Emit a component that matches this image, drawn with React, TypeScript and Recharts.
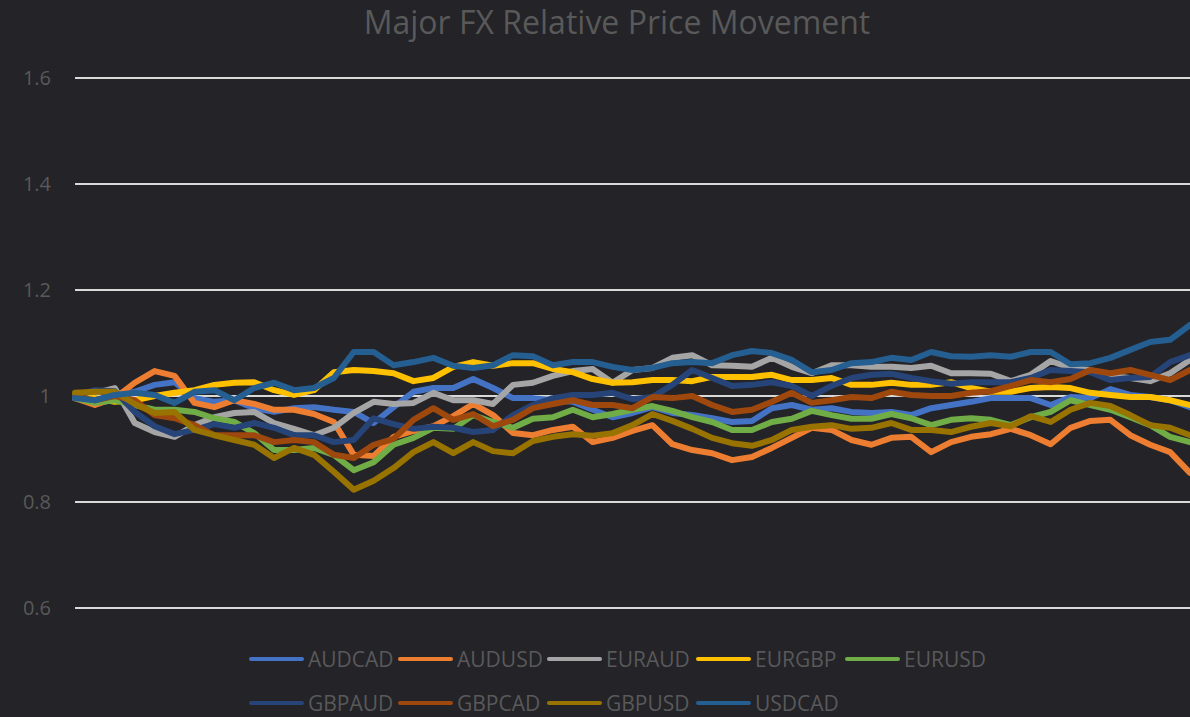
import React from 'react';
import { LineChart, Line, XAxis, YAxis, CartesianGrid } from 'recharts';

// trading days (no labels on the axis)
const days = Array.from({ length: 57 }, (_, i) => i + 1);

const yTicks = [0.6, 0.8, 1, 1.2, 1.4, 1.6];

const audcad = [
  0.996, 0.992, 1.0, 1.008, 1.021, 1.026, 0.996, 0.989, 0.992, 0.977,
  0.97, 0.977, 0.979, 0.974, 0.97, 0.949, 0.979, 1.008, 1.015, 1.015,
  1.032, 1.015, 0.996, 0.996, 0.992, 0.989, 0.974, 0.96, 0.968, 0.979,
  0.968, 0.964, 0.958, 0.951, 0.953, 0.977, 0.983, 0.974, 0.977, 0.97,
  0.968, 0.97, 0.964, 0.977, 0.983, 0.989, 0.996, 0.996, 0.996, 0.983,
  0.998, 0.996, 1.013, 1.002, 0.998, 0.992, 0.979,
];
const audusd = [
  0.996, 0.983, 0.996, 1.025, 1.047, 1.038, 0.987, 0.979, 0.992, 0.985,
  0.974, 0.974, 0.966, 0.951, 0.889, 0.887, 0.923, 0.934, 0.943, 0.962,
  0.985, 0.964, 0.93, 0.926, 0.936, 0.942, 0.913, 0.921, 0.934, 0.945,
  0.909, 0.898, 0.892, 0.879, 0.885, 0.902, 0.921, 0.94, 0.936, 0.917,
  0.908, 0.921, 0.923, 0.894, 0.913, 0.923, 0.928, 0.938, 0.926, 0.909,
  0.94, 0.953, 0.955, 0.926, 0.908, 0.894, 0.855,
];
const euraud = [
  0.996, 1.006, 1.015, 0.949, 0.932, 0.923, 0.945, 0.96, 0.968, 0.97,
  0.949, 0.938, 0.926, 0.94, 0.968, 0.989, 0.985, 0.987, 1.006, 0.992,
  0.992, 0.985, 1.021, 1.025, 1.038, 1.047, 1.051, 1.025, 1.049, 1.053,
  1.072, 1.077, 1.058, 1.057, 1.055, 1.072, 1.055, 1.043, 1.058, 1.058,
  1.055, 1.055, 1.053, 1.057, 1.043, 1.043, 1.042, 1.028, 1.04, 1.066,
  1.053, 1.049, 1.038, 1.034, 1.028, 1.043, 1.068,
];
const eurgbp = [
  1.0, 0.996, 0.989, 0.992, 1.0, 1.006, 1.011, 1.021, 1.025, 1.026,
  1.011, 1.002, 1.011, 1.045, 1.049, 1.047, 1.043, 1.028, 1.034, 1.055,
  1.064, 1.057, 1.062, 1.062, 1.051, 1.045, 1.032, 1.025, 1.026, 1.03,
  1.03, 1.028, 1.036, 1.036, 1.036, 1.04, 1.03, 1.03, 1.034, 1.021,
  1.021, 1.025, 1.021, 1.021, 1.026, 1.015, 1.008, 1.008, 1.015, 1.017,
  1.015, 1.006, 1.002, 0.998, 0.998, 0.992, 0.983,
];
const eurusd = [
  0.996, 0.987, 0.992, 0.983, 0.974, 0.974, 0.97, 0.958, 0.951, 0.93,
  0.898, 0.898, 0.902, 0.889, 0.86, 0.875, 0.908, 0.921, 0.94, 0.938,
  0.964, 0.951, 0.94, 0.957, 0.96, 0.974, 0.96, 0.966, 0.974, 0.981,
  0.972, 0.96, 0.951, 0.936, 0.936, 0.951, 0.957, 0.972, 0.964, 0.957,
  0.957, 0.966, 0.958, 0.945, 0.955, 0.958, 0.955, 0.945, 0.96, 0.97,
  0.992, 0.983, 0.974, 0.96, 0.945, 0.923, 0.913,
];
const gbpaud = [
  1.0, 1.011, 1.009, 0.97, 0.943, 0.928, 0.936, 0.947, 0.94, 0.949,
  0.94, 0.926, 0.926, 0.913, 0.917, 0.958, 0.947, 0.938, 0.942, 0.94,
  0.932, 0.936, 0.964, 0.983, 0.996, 1.002, 1.002, 1.006, 0.994, 0.998,
  1.021, 1.049, 1.034, 1.019, 1.021, 1.026, 1.019, 1.0, 1.019, 1.034,
  1.04, 1.042, 1.034, 1.028, 1.023, 1.026, 1.026, 1.026, 1.034, 1.049,
  1.047, 1.045, 1.03, 1.034, 1.036, 1.064, 1.077,
];
const gbpcad = [
  0.998, 0.992, 1.0, 0.992, 0.964, 0.958, 0.945, 0.926, 0.926, 0.926,
  0.913, 0.917, 0.913, 0.889, 0.883, 0.908, 0.919, 0.955, 0.977, 0.955,
  0.966, 0.943, 0.955, 0.977, 0.985, 0.992, 0.983, 0.983, 0.977, 0.998,
  0.996, 1.0, 0.983, 0.97, 0.974, 0.989, 1.006, 0.987, 0.992, 0.998,
  0.996, 1.008, 1.002, 1.0, 1.0, 1.006, 1.009, 1.019, 1.03, 1.026,
  1.032, 1.049, 1.043, 1.049, 1.04, 1.03, 1.049,
];
const gbpusd = [
  1.006, 1.008, 1.008, 0.985, 0.968, 0.97, 0.936, 0.926, 0.917, 0.908,
  0.883, 0.902, 0.889, 0.857, 0.823, 0.84, 0.864, 0.894, 0.913, 0.892,
  0.913, 0.896, 0.892, 0.915, 0.923, 0.928, 0.925, 0.93, 0.945, 0.966,
  0.953, 0.938, 0.921, 0.911, 0.906, 0.917, 0.936, 0.942, 0.945, 0.938,
  0.94, 0.949, 0.936, 0.936, 0.932, 0.942, 0.949, 0.943, 0.962, 0.951,
  0.974, 0.987, 0.981, 0.964, 0.945, 0.94, 0.926,
];
const usdcad = [
  0.996, 0.992, 1.002, 1.006, 1.002, 0.987, 1.008, 1.011, 0.992, 1.015,
  1.025, 1.011, 1.015, 1.034, 1.083, 1.083, 1.058, 1.064, 1.072, 1.057,
  1.053, 1.058, 1.077, 1.075, 1.058, 1.064, 1.064, 1.055, 1.049, 1.053,
  1.062, 1.064, 1.062, 1.077, 1.085, 1.081, 1.068, 1.045, 1.049, 1.062,
  1.064, 1.072, 1.068, 1.083, 1.075, 1.074, 1.077, 1.074, 1.083, 1.083,
  1.06, 1.062, 1.072, 1.087, 1.102, 1.106, 1.134,
];

const series = [
  { name: 'AUDCAD', values: audcad, color: '#4472C4' },
  { name: 'AUDUSD', values: audusd, color: '#ED7D31' },
  { name: 'EURAUD', values: euraud, color: '#A5A5A5' },
  { name: 'EURGBP', values: eurgbp, color: '#FFC000' },
  { name: 'EURUSD', values: eurusd, color: '#70AD47' },
  { name: 'GBPAUD', values: gbpaud, color: '#264478' },
  { name: 'GBPCAD', values: gbpcad, color: '#9E480E' },
  { name: 'GBPUSD', values: gbpusd, color: '#997300' },
  { name: 'USDCAD', values: usdcad, color: '#255E91' },
];

const data = days.map((day, i) => {
  const row: Record<string, number> = { day };
  series.forEach((s) => {
    row[s.name] = s.values[i];
  });
  return row;
});

const textColor = '#595959';
const font = '"Open Sans", sans-serif';

const LegendRow = ({ items, top }: { items: typeof series; top: number }) => (
  <div style={{ position: 'absolute', left: 249, top, display: 'flex' }}>
    {items.map((s) => (
      <div key={s.name} style={{ width: 149, display: 'flex', alignItems: 'center' }}>
        <div style={{ width: 55, height: 4, borderRadius: 2, background: s.color, marginRight: 4 }} />
        <span style={{ color: textColor, fontSize: 21, fontFamily: font, lineHeight: '26px' }}>{s.name}</span>
      </div>
    ))}
  </div>
);

export default function App() {
  return (
    <div
      style={{
        position: 'absolute',
        left: 0,
        top: 0,
        width: 1190,
        height: 717,
        background: '#232328',
        overflow: 'hidden',
      }}
    >
      <div
        style={{
          position: 'absolute',
          left: 0,
          top: 0,
          width: 1234,
          textAlign: 'center',
          color: textColor,
          fontFamily: font,
          fontSize: 32,
        }}
      >
        Major FX Relative Price Movement
      </div>
      <LineChart width={1190} height={717} data={data} margin={{ top: 78, right: 0, bottom: 109, left: 0 }}>
        <CartesianGrid vertical={false} stroke="#d9d9d9" strokeWidth={2} />
        <XAxis dataKey="day" hide />
        <YAxis
          width={75}
          domain={[0.6, 1.6]}
          ticks={yTicks}
          tickLine={false}
          axisLine={false}
          tickSize={0}
          tickMargin={24}
          tick={{ fill: textColor, fontSize: 20, fontFamily: font }}
        />
        {series.map((s) => (
          <Line
            key={s.name}
            type="linear"
            dataKey={s.name}
            stroke={s.color}
            strokeWidth={6}
            strokeLinejoin="round"
            strokeLinecap="round"
            dot={false}
            isAnimationActive={false}
          />
        ))}
      </LineChart>
      <LegendRow items={series.slice(0, 5)} top={646} />
      <LegendRow items={series.slice(5)} top={690} />
    </div>
  );
}
